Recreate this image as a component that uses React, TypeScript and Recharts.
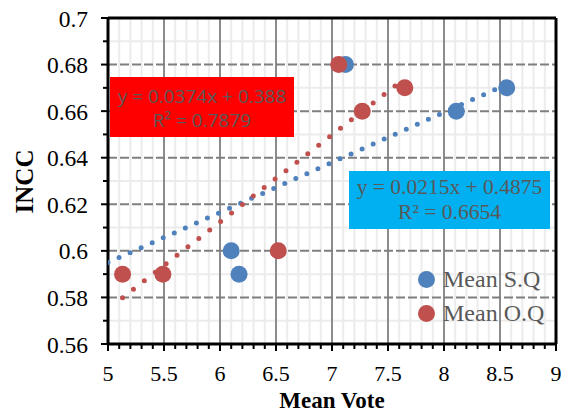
import React from 'react';
import { ScatterChart, Scatter, XAxis, YAxis, ReferenceLine } from 'recharts';

// Data
const sqX = [6.1, 6.17, 7.12, 8.11, 8.56];
const sqY = [0.6, 0.59, 0.68, 0.66, 0.67];
const oqX = [5.13, 5.49, 6.52, 7.06, 7.27, 7.65];
const oqY = [0.59, 0.59, 0.6, 0.68, 0.66, 0.67];

// Trendline end points (Excel linear trendlines)
const sqTrendX = [5.0, 8.56];
const sqTrendY = [0.595, 0.6715];
const oqTrendX = [5.13, 7.65];
const oqTrendY = [0.5799, 0.6741];

const xMajorTicks = [5, 5.5, 6, 6.5, 7, 7.5, 8, 8.5, 9];
const xMinorTicks = [
  5.1, 5.2, 5.3, 5.4, 5.6, 5.7, 5.8, 5.9, 6.1, 6.2, 6.3, 6.4, 6.6, 6.7, 6.8, 6.9,
  7.1, 7.2, 7.3, 7.4, 7.6, 7.7, 7.8, 7.9, 8.1, 8.2, 8.3, 8.4, 8.6, 8.7, 8.8, 8.9,
];
const yMajorTicks = [0.56, 0.58, 0.6, 0.62, 0.64, 0.66, 0.68, 0.7];
const yMinorTicks = [0.57, 0.59, 0.61, 0.63, 0.65, 0.67, 0.69];

const xAllTicks = [...xMajorTicks, ...xMinorTicks].sort((a, b) => a - b);
const yAllTicks = [...yMajorTicks, ...yMinorTicks].sort((a, b) => a - b);

const sqData = sqX.map((x, i) => ({ x, y: sqY[i] }));
const oqData = oqX.map((x, i) => ({ x, y: oqY[i] }));
const sqTrend = sqTrendX.map((x, i) => ({ x, y: sqTrendY[i] }));
const oqTrend = oqTrendX.map((x, i) => ({ x, y: oqTrendY[i] }));

const BLUE = '#4F81BD';
const RED = '#C0504D';
const SERIF = '"Liberation Serif", "Times New Roman", serif';

const isMajor = (v: number, step: number) => Math.abs(v / step - Math.round(v / step)) < 1e-6;

const XTick = (p: any) => {
  const { x, y, payload } = p;
  const v = payload.value as number;
  const major = isMajor(v, 0.5);
  return (
    <g>
      <line x1={x} x2={x} y1={y} y2={y + (major ? 7 : 5)} stroke="#000" strokeWidth={2} />
      {major && (
        <text x={x} y={y + 37} textAnchor="middle" fontFamily={SERIF} fontSize={22} fill="#000">
          {String(v)}
        </text>
      )}
    </g>
  );
};

const YTick = (p: any) => {
  const { x, y, payload } = p;
  const v = payload.value as number;
  const major = isMajor(v, 0.02);
  return (
    <g>
      <line x1={x - (major ? 7 : 5)} x2={x} y1={y} y2={y} stroke="#000" strokeWidth={2} />
      {major && (
        <text x={x - 20} y={y + 8.5} textAnchor="end" fontFamily={SERIF} fontSize={23.5} fill="#000">
          {String(Math.round(v * 100) / 100)}
        </text>
      )}
    </g>
  );
};

const XTitle = () => (
  <text x={332} y={408} textAnchor="middle" fontFamily={SERIF} fontWeight="bold" fontSize={23} fill="#000">
    Mean Vote
  </text>
);

const YTitle = () => (
  <text
    transform="translate(33,181.5) rotate(-90)"
    textAnchor="middle"
    fontFamily={SERIF}
    fontWeight="bold"
    fontSize={25}
    fill="#000"
  >
    INCC
  </text>
);

const Marker = (color: string) => (props: any) => (
  <circle cx={props.cx} cy={props.cy} r={8.5} fill={color} />
);

const NoShape = () => null;

export default function App() {
  return (
    <div style={{ position: 'absolute', left: 0, top: 0, width: 568, height: 414, background: '#fff' }}>
      <ScatterChart width={568} height={414} margin={{ top: 18, right: 12, left: 0, bottom: 0 }}>
        <XAxis
          type="number"
          dataKey="x"
          domain={[5, 9]}
          ticks={xAllTicks}
          interval={0}
          tickSize={0}
          tickMargin={0}
          tick={<XTick />}
          height={70}
          axisLine={{ stroke: '#000', strokeWidth: 3 }}
          label={<XTitle />}
          allowDataOverflow
        />
        <YAxis
          type="number"
          dataKey="y"
          domain={[0.56, 0.7]}
          ticks={yAllTicks}
          interval={0}
          tickSize={0}
          tickMargin={0}
          tick={<YTick />}
          width={108}
          axisLine={{ stroke: '#000', strokeWidth: 3 }}
          label={<YTitle />}
          allowDataOverflow
        />
        {xMinorTicks.map((v) => (
          <ReferenceLine key={'xm' + v} x={v} stroke="#ECECEC" strokeWidth={2} />
        ))}
        {yMinorTicks.map((v) => (
          <ReferenceLine key={'ym' + v} y={v} stroke="#ECECEC" strokeWidth={2} />
        ))}
        {xMajorTicks.slice(1, -1).map((v) => (
          <ReferenceLine key={'xM' + v} x={v} stroke="#8C8C8C" strokeWidth={2} />
        ))}
        {yMajorTicks.slice(1, -1).map((v) => (
          <ReferenceLine key={'yM' + v} y={v} stroke="#7F7F7F" strokeWidth={2} strokeDasharray="9 3" />
        ))}
        <ReferenceLine y={0.7} stroke="#000" strokeWidth={3} />
        <ReferenceLine x={9} stroke="#000" strokeWidth={3} />
        <Scatter name="Mean S.Q" data={sqData} fill={BLUE} shape={Marker(BLUE)} isAnimationActive={false} />
        <Scatter name="Mean O.Q" data={oqData} fill={RED} shape={Marker(RED)} isAnimationActive={false} />
        <Scatter
          data={sqTrend}
          shape={NoShape}
          line={{ stroke: BLUE, strokeWidth: 5, strokeDasharray: '0 12.1', strokeLinecap: 'round' }}
          isAnimationActive={false}
          legendType="none"
        />
        <Scatter
          data={oqTrend}
          shape={NoShape}
          line={{ stroke: RED, strokeWidth: 5, strokeDasharray: '0 13.8', strokeLinecap: 'round' }}
          isAnimationActive={false}
          legendType="none"
        />
      </ScatterChart>

      {/* Trendline equation labels */}
      <div
        style={{
          position: 'absolute',
          left: 110,
          top: 77,
          width: 184,
          height: 60,
          background: '#FF0000',
          color: '#595959',
          fontFamily: '"Open Sans", "Noto Sans", sans-serif',
          fontSize: 19,
          lineHeight: '24px',
          textAlign: 'center',
          paddingTop: 7,
          boxSizing: 'border-box',
          whiteSpace: 'nowrap',
        }}
      >
        <div>y = 0.0374x + 0.388</div>
        <div>R² = 0.7879</div>
      </div>
      <div
        style={{
          position: 'absolute',
          left: 349,
          top: 171,
          width: 201,
          height: 58,
          background: '#00B0F0',
          color: '#595959',
          fontFamily: SERIF,
          fontSize: 21.5,
          lineHeight: '25px',
          textAlign: 'center',
          paddingTop: 4,
          boxSizing: 'border-box',
          whiteSpace: 'nowrap',
        }}
      >
        <div>y = 0.0215x + 0.4875</div>
        <div>R² = 0.6654</div>
      </div>

      {/* Legend */}
      <div
        style={{
          position: 'absolute',
          left: 418,
          top: 262,
          fontFamily: SERIF,
          fontSize: 24,
          color: '#595959',
          lineHeight: '34px',
          whiteSpace: 'nowrap',
        }}
      >
        {[
          { name: 'Mean S.Q', color: BLUE },
          { name: 'Mean O.Q', color: RED },
        ].map((it) => (
          <div key={it.name} style={{ display: 'flex', alignItems: 'center', height: 34 }}>
            <span
              style={{
                display: 'inline-block',
                width: 17,
                height: 17,
                borderRadius: '50%',
                background: it.color,
                marginRight: 8,
              }}
            />
            <span>{it.name}</span>
          </div>
        ))}
      </div>
    </div>
  );
}
